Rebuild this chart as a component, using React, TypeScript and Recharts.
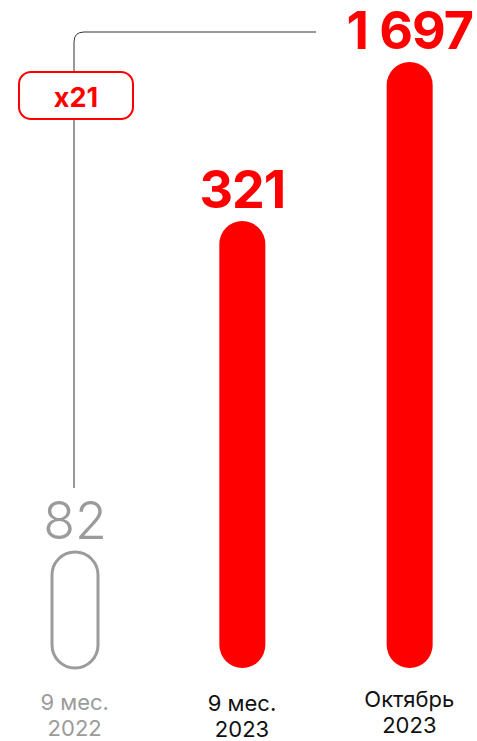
import React from 'react';
import { BarChart, Bar, XAxis, YAxis, LabelList, Customized } from 'recharts';

// Chart data
const periods = ['9 мес. 2022', '9 мес. 2023', 'Октябрь 2023'];
const periodLines = [
  ['9 мес.', '2022'],
  ['9 мес.', '2023'],
  ['Октябрь', '2023'],
];
const counts = [82, 321, 1697];
const countLabels = ['82', '321', '1 697'];
// drawn bar lengths (the original is not to scale)
const barLengths = [116, 447, 606];
const growthLabel = 'x21';

const RED = '#ff0000';
const GREY = '#9b9b9b';
const FONT = 'Inter, "Noto Sans", sans-serif';

const data = periods.map((period, i) => ({
  period,
  count: counts[i],
  label: countLabels[i],
  length: barLengths[i],
}));

// Pill-shaped bar, first one outlined in grey
const PillShape = (props: any) => {
  const { x, y, width, height, index } = props;
  if (index === 0) {
    return (
      <rect x={x} y={y} width={width} height={height} rx={width / 2}
        fill="#fff" stroke={GREY} strokeWidth={3} />
    );
  }
  return <rect x={x} y={y} width={width} height={height} rx={width / 2} fill={RED} />;
};

const ValueLabel = (props: any) => {
  const { x, y, width, value, index } = props;
  const grey = index === 0;
  return (
    <text x={x + width / 2} y={y - 13} textAnchor="middle" fontFamily={FONT}
      fontSize={52} fontWeight={grey ? 300 : 700} fill={grey ? GREY : RED}
      letterSpacing={grey ? 0 : -1}>
      {value}
    </text>
  );
};

const lineOffsets = [0, 1, -3];

const PeriodTick = (props: any) => {
  const { x, y, index } = props;
  const lines = periodLines[index] || [];
  return (
    <text x={x} y={y} textAnchor="middle" fontFamily={FONT} fontSize={22}
      fill={index === 0 ? GREY : '#111'}>
      {lines.map((l, i) => (
        <tspan key={i} x={x} dy={i === 0 ? 42 + lineOffsets[index] : 26}>{l}</tspan>
      ))}
    </text>
  );
};

// x21 badge with connector line
const Growth = () => (
  <g>
    <path d="M74 488 L74 42 Q74 32 84 32 L316 32" fill="none" stroke="#333" strokeWidth={1} />
    <rect x={19} y={72} width={114} height={47} rx={12} fill="#fff" stroke={RED} strokeWidth={2} />
    <text x={76} y={107} textAnchor="middle" fontFamily={FONT} fontSize={27}
      fontWeight={700} fill={RED}>
      {growthLabel}
    </text>
  </g>
);

const App: React.FC = () => {
  return (
    <div style={{ position: 'absolute', left: 0, top: 0, width: 477, height: 741, overflow: 'hidden', background: '#fff' }}>
      <BarChart width={477} height={741} data={data}
        margin={{ top: 62, right: -16, bottom: 0, left: -9 }}>
        <XAxis dataKey="period" axisLine={false} tickLine={false} tickSize={0}
          tickMargin={0} height={73} interval={0} tick={<PeriodTick />} />
        <YAxis hide domain={[0, 606]} />
        <Customized component={Growth} />
        <Bar dataKey="length" barSize={46} shape={PillShape} isAnimationActive={false}>
          <LabelList dataKey="label" content={ValueLabel} />
        </Bar>
      </BarChart>
    </div>
  );
};

export default App;
